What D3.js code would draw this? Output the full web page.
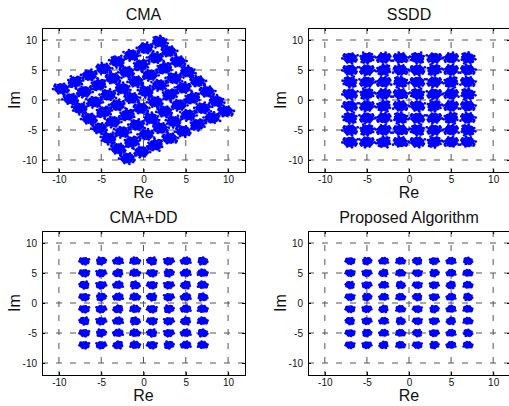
<!DOCTYPE html>
<meta charset="utf-8">
<script src="https://d3js.org/d3.v7.min.js"></script>
<style>
    body { margin: 0; background: #fff; }
    text { font-family: "Liberation Sans", Arial, Helvetica, sans-serif; fill: #111; }
</style>
<div id="vis"></div>
<script>
    // panel titles
    var titles = ["CMA", "SSDD", "CMA+DD", "Proposed Algorithm"];

    // 64-QAM levels (I and Q) used by the equalised panels
    var levels = [-7, -5, -3, -1, 1, 3, 5, 7];

    // CMA output: rotated grid, cluster centres [re, im]
    var cmaCenters = [
        [-9.7, 1.9], [-8.1, 3.0], [-6.4, 4.1], [-4.7, 5.2], [-3.1, 6.4], [-1.4, 7.5], [0.2, 8.6], [1.9, 9.7],
        [-8.6, 0.2], [-7.0, 1.4], [-5.3, 2.5], [-3.6, 3.6], [-2.0, 4.7], [-0.3, 5.8], [1.4, 7.0], [3.0, 8.1],
        [-7.5, -1.4], [-5.8, -0.3], [-4.2, 0.8], [-2.5, 1.9], [-0.9, 3.1], [0.8, 4.2], [2.5, 5.3], [4.1, 6.4],
        [-6.4, -3.1], [-4.7, -2.0], [-3.1, -0.9], [-1.4, 0.3], [0.3, 1.4], [1.9, 2.5], [3.6, 3.6], [5.2, 4.7],
        [-5.2, -4.7], [-3.6, -3.6], [-1.9, -2.5], [-0.3, -1.4], [1.4, -0.3], [3.1, 0.9], [4.7, 2.0], [6.4, 3.1],
        [-4.1, -6.4], [-2.5, -5.3], [-0.8, -4.2], [0.9, -3.1], [2.5, -1.9], [4.2, -0.8], [5.8, 0.3], [7.5, 1.4],
        [-3.0, -8.1], [-1.4, -7.0], [0.3, -5.8], [2.0, -4.7], [3.6, -3.6], [5.3, -2.5], [7.0, -1.4], [8.6, -0.2],
        [-1.9, -9.7], [-0.2, -8.6], [1.4, -7.5], [3.1, -6.4], [4.7, -5.2], [6.4, -4.1], [8.1, -3.0], [9.7, -1.9]
    ];

    // cluster spread (in symbol units) per panel
    var spreads = [0.8, 0.74, 0.46, 0.42];

    // sampled shape of one noisy cluster (unit spread)
    var blob = [
        [0, 0], [0.2, 0.1], [-0.2, 0.15], [0.1, -0.25], [-0.15, -0.2], [0.35, -0.05], [-0.35, 0.05],
        [0.05, 0.35], [-0.05, -0.4], [0.3, 0.3], [-0.3, 0.3], [0.3, -0.3], [-0.3, -0.32], [0.5, 0.1],
        [-0.5, -0.1], [0.1, 0.5], [-0.1, 0.5], [0.55, -0.2], [-0.55, 0.25], [0.2, -0.55], [-0.25, -0.55],
        [0.45, 0.4], [-0.45, 0.42], [0.42, -0.45], [-0.4, -0.45], [0.7, 0.05], [-0.7, -0.05], [0.0, 0.68],
        [0.05, -0.7], [0.65, 0.3], [-0.65, 0.3], [0.6, -0.4], [-0.62, -0.35], [0.3, 0.65], [-0.3, 0.62],
        [0.28, -0.66], [-0.32, -0.64], [0.82, -0.1], [-0.8, 0.12], [0.1, 0.82], [-0.12, -0.84], [0.75, 0.45],
        [-0.72, -0.5], [0.5, -0.7], [-0.5, 0.72], [0.9, 0.25], [-0.92, -0.2], [0.2, -0.9], [-0.22, 0.9],
        [1.05, -0.35], [-1.0, 0.45], [0.4, 1.0], [-0.45, -1.02], [1.2, 0.6], [-1.25, -0.1], [0.3, -1.2],
        [0.85, -0.8], [-0.9, 0.85], [0.62, 0.62], [-0.6, -0.66], [0.95, -0.55], [-0.98, 0.6]
    ];

    var tickVals = [-10, -5, 0, 5, 10];

    // panel boxes
    var boxes = [
        { l: 42, r: 245, t: 28, b: 172 },
        { l: 308, r: 510, t: 28, b: 172 },
        { l: 42, r: 245, t: 231, b: 375 },
        { l: 308, r: 510, t: 231, b: 375 }
    ];

    var W = 509, H = 406;
    var svg = d3.select("#vis").append("svg")
        .attr("width", W)
        .attr("height", H);

    // centres on the square grid
    var gridCenters = [];
    levels.slice().reverse().forEach(function (q) {
        levels.forEach(function (i) { gridCenters.push([i, q]); });
    });

    boxes.forEach(function (bx, p) {
        var x = d3.scaleLinear().domain([-12, 12]).range([bx.l, bx.r]);
        var y = d3.scaleLinear().domain([-12, 12]).range([bx.b, bx.t]);
        var g = svg.append("g");

        // dashed grid
        g.selectAll(".gx").data(tickVals).enter().append("line")
            .attr("x1", function (d) { return x(d); })
            .attr("x2", function (d) { return x(d); })
            .attr("y1", bx.t).attr("y2", bx.b)
            .attr("stroke", "#555").attr("stroke-dasharray", "6,8");
        g.selectAll(".gy").data(tickVals).enter().append("line")
            .attr("y1", function (d) { return y(d); })
            .attr("y2", function (d) { return y(d); })
            .attr("x1", bx.l).attr("x2", bx.r)
            .attr("stroke", "#555").attr("stroke-dasharray", "6,8");

        // points
        var centers = p === 0 ? cmaCenters : gridCenters;
        var s = spreads[p];
        var pts = [];
        centers.forEach(function (c, k) {
            var fx = k % 2 ? -1 : 1, fy = Math.floor(k / 2) % 2 ? -1 : 1, sw = k % 3 === 1;
            blob.forEach(function (o) {
                var dx = sw ? o[1] : o[0], dy = sw ? o[0] : o[1];
                pts.push([c[0] + fx * dx * s, c[1] + fy * dy * s]);
            });
        });
        g.append("g").selectAll("circle").data(pts).enter().append("circle")
            .attr("cx", function (d) { return x(d[0]); })
            .attr("cy", function (d) { return y(d[1]); })
            .attr("r", 1.35)
            .attr("fill", "#0000ff");

        // axes: labelled bottom/left, inward ticks all sides
        var fmt = function (d) { return d; };
        g.append("g").attr("transform", "translate(0," + bx.b + ")")
            .call(d3.axisBottom(x).tickValues(tickVals).tickSize(-3).tickPadding(4).tickFormat(fmt));
        g.append("g").attr("transform", "translate(" + bx.l + ",0)")
            .call(d3.axisLeft(y).tickValues(tickVals).tickSize(-3).tickPadding(5).tickFormat(fmt));
        g.append("g").attr("transform", "translate(0," + bx.t + ")")
            .call(d3.axisTop(x).tickValues(tickVals).tickSize(-3).tickFormat(""));
        g.append("g").attr("transform", "translate(" + bx.r + ",0)")
            .call(d3.axisRight(y).tickValues(tickVals).tickSize(-3).tickFormat(""));
        g.selectAll(".domain").attr("stroke", "#000");
        g.selectAll(".tick line").attr("stroke", "#000");
        g.selectAll(".tick text")
            .style("font-family", "'Liberation Sans', Arial, sans-serif")
            .style("font-size", "10px")
            .attr("fill", "#111");

        // titles and labels
        svg.append("text")
            .attr("x", (bx.l + bx.r) / 2)
            .attr("y", bx.t - 8.5)
            .attr("text-anchor", "middle")
            .style("font-size", "16px")
            .text(titles[p]);
        svg.append("text")
            .attr("x", x(0))
            .attr("y", bx.b + 26)
            .attr("text-anchor", "middle")
            .style("font-size", "16px")
            .text("Re");
        svg.append("text")
            .attr("transform", "translate(" + (bx.l - 22) + "," + y(0) + ") rotate(-90)")
            .attr("text-anchor", "middle")
            .style("font-size", "16px")
            .text("Im");
    });
</script>
